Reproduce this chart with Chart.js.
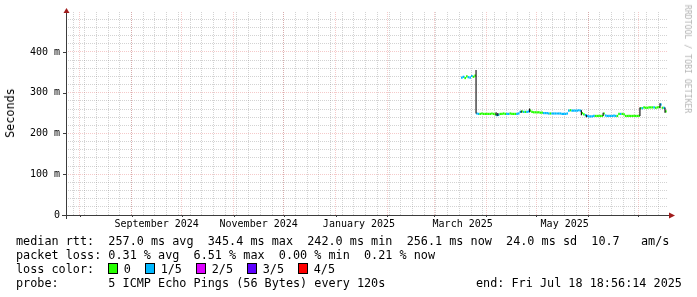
<!DOCTYPE html>
<html>
<head>
<meta charset="utf-8">
<script src="https://cdn.jsdelivr.net/npm/chart.js@4.4.1/dist/chart.umd.min.js"></script>
<style>
  html, body { margin: 0; padding: 0; background: #fff; }
  #wrap { position: relative; width: 697px; height: 297px; overflow: hidden; font-family: 'DejaVu Sans Mono', monospace; }
  #chart { position: absolute; left: 0; top: 0; }
  .row { position: absolute; left: 16px; font-size: 11.8px; line-height: 14px; white-space: pre; color: #000; }
  .box { display: inline-block; width: 8px; height: 9px; border: 1px solid #000; vertical-align: -1px; margin-right: 5.5px; }
  #ylabel { position: absolute; left: 10px; top: 113px; font-size: 11.8px; white-space: pre; transform: translate(-50%, -50%) rotate(-90deg); }
  #credit { position: absolute; left: 687.5px; top: 59px; font-size: 8.2px; color: #b4b4b4; white-space: pre; transform: translate(-50%, -50%) rotate(90deg); }
</style>
</head>
<body>
<div id="wrap">
  <canvas id="chart" width="697" height="297"></canvas>
  <div id="ylabel">Seconds</div>
  <div id="credit">RRDTOOL / TOBI OETIKER</div>
  <div class="row" style="top:234px">median rtt:  257.0 ms avg  345.4 ms max  242.0 ms min  256.1 ms now  24.0 ms sd  10.7   am/s</div>
  <div class="row" style="top:248px">packet loss: 0.31 % avg  6.51 % max  0.00 % min  0.21 % now</div>
  <div class="row" id="lossRow" style="top:262px"></div>
  <div class="row" style="top:276px">probe:       5 ICMP Echo Pings (56 Bytes) every 120s</div>
  <div class="row" style="top:276px; left:476px">end: Fri Jul 18 18:56:14 2025</div>
</div>
<script>
const DAY = 86400000;
const endTime = Date.UTC(2025, 6, 18, 18, 56, 14);
const startTime = endTime - 360 * DAY;

// one median sample per day, first one on 2025-03-18
const firstSample = Date.UTC(2025, 2, 18);
const medianRtt = [
  337, 339, 336, 340, 338, 337, 341, 339, 342,
  249, 248, 248, 249, 248, 248, 248, 248, 248, 249, 248, 247, 245, 246, 248, 248, 249, 248, 248, 248, 249, 248, 248, 248, 248, 249,
  253, 254, 253, 253, 253, 254, 256, 253, 252, 252, 252, 252, 251, 251, 250, 250, 250, 249, 249, 249, 249, 249, 249, 249, 249, 248, 248, 248, 249,
  256, 257, 256, 256, 256, 256, 257, 256,
  250, 247, 245, 243, 242, 242, 242, 243, 243, 243, 243, 243, 243, 249, 244, 243, 243, 243, 243, 244, 243, 243, 248, 248, 248, 247, 243, 243, 243, 243, 243, 243, 243, 243, 243,
  262, 262, 264, 263, 263, 264, 264, 264, 264, 263, 264, 265, 271, 263, 263, 254
];
// lost pings (of 5) per sample
const lossPings = [
  1, 1, 0, 0, 1, 1, 1, 0, 0,
  1, 1, 0, 0, 0, 0, 0, 0, 0, 0, 0, 0, 1, 1, 0, 0, 0, 0, 1, 1, 0, 0, 0, 0, 1, 1,
  1, 0, 1, 0, 1, 1, 0, 0, 0, 0, 0, 0, 0, 0, 1, 1, 1, 1, 0, 1, 1, 1, 1, 1, 1, 1, 1, 1, 1,
  1, 0, 1, 1, 1, 1, 1, 1,
  0, 0, 1, 1, 1, 1, 1, 1, 0, 0, 0, 0, 0, 0, 1, 1, 1, 1, 1, 1, 1, 0, 0, 1, 0, 0, 0, 0, 0, 0, 0, 0, 0, 0, 0,
  0, 1, 0, 0, 0, 0, 0, 0, 1, 0, 0, 0, 1, 0, 1, 0
];
// smoke (min/max spread) where it is visible
const smokeIdx  = [9, 21, 22, 36, 41, 72, 75, 85, 107, 119, 122];
const smokeLow  = [249, 244, 243, 251, 252, 245, 240, 243, 243, 262, 251];
const smokeHigh = [356, 252, 250, 256, 261, 257, 246, 251, 264, 274, 264];

const lossLabels = ['0', '1/5', '2/5', '3/5', '4/5'];
const lossColors = ['#26ff00', '#00b8ff', '#dd00ff', '#5e00ff', '#ff0000'];

const monthLabels = ['September 2024', 'November 2024', 'January 2025', 'March 2025', 'May 2025'];
const monthLabelDates = [Date.UTC(2024, 8, 16), Date.UTC(2024, 10, 16), Date.UTC(2025, 0, 15), Date.UTC(2025, 2, 18), Date.UTC(2025, 4, 18)];
const yTickValues = [0, 100, 200, 300, 400];
const yTickLabels = ['0', '100 m', '200 m', '300 m', '400 m'];

const MINOR = 'rgba(140,140,140,0.38)';
const MAJOR = 'rgba(225,100,100,0.34)';

// loss color legend row
const lossRow = document.getElementById('lossRow');
let html = 'loss color:  ';
lossLabels.forEach(function (lab, i) {
    html += '<span class="box" style="background:' + lossColors[i] + '"></span>' + lab + (i < lossLabels.length - 1 ? '  ' : '');
});
lossRow.innerHTML = html;

// x ticks: weekly (sundays), monthly, plus the labels
function buildXTicks() {
    const ticks = [];
    for (let t = Date.UTC(2024, 6, 28); t < endTime; t += 7 * DAY) ticks.push({ value: t, kind: 'minor' });
    for (let k = 0; ; k++) {
        const t = Date.UTC(2024, 7 + k, 1);
        if (t > endTime) break;
        ticks.push({ value: t, kind: 'major' });
    }
    monthLabelDates.forEach(function (d, i) { ticks.push({ value: d, kind: 'label', text: monthLabels[i] }); });
    ticks.sort(function (a, b) { return a.value - b.value; });
    return ticks;
}

// each sample is drawn as a flat piece over its own day, like rrdtool does
const medianPoints = [];
medianRtt.forEach(function (v, i) {
    const t = firstSample + i * DAY;
    medianPoints.push({ x: t - DAY, y: v }, { x: t, y: v }, { x: t, y: null });
});
const smokePoints = [];
smokeIdx.forEach(function (d, i) {
    const x = firstSample + (d - 1) * DAY;
    smokePoints.push({ x: x, y: smokeLow[i] }, { x: x, y: smokeHigh[i] }, { x: x, y: null });
});

const axesPlugin = {
    id: 'rrdAxes',
    afterDatasetsDraw(chart) {
        const ctx = chart.ctx;
        const a = chart.chartArea;
        const xs = chart.scales.x, ys = chart.scales.y;
        ctx.save();
        ctx.strokeStyle = '#3c3c3c';
        ctx.lineWidth = 1;
        ctx.beginPath();
        ctx.moveTo(a.left - 4, a.bottom + 0.5);
        ctx.lineTo(a.right + 2, a.bottom + 0.5);
        ctx.moveTo(a.left + 0.5, a.bottom + 4);
        ctx.lineTo(a.left + 0.5, a.top - 2);
        // small tick marks
        xs.ticks.forEach(function (t) {
            if (t.kind !== 'major') return;
            const px = Math.round(xs.getPixelForValue(t.value)) + 0.5;
            ctx.moveTo(px, a.bottom);
            ctx.lineTo(px, a.bottom + 2);
        });
        yTickValues.forEach(function (v) {
            const py = Math.round(ys.getPixelForValue(v)) + 0.5;
            ctx.moveTo(a.left - 3, py);
            ctx.lineTo(a.left, py);
        });
        ctx.stroke();
        // arrows
        ctx.fillStyle = '#a01c1c';
        ctx.beginPath();
        ctx.moveTo(a.right + 1, a.bottom - 2.5);
        ctx.lineTo(a.right + 7, a.bottom + 0.5);
        ctx.lineTo(a.right + 1, a.bottom + 3.5);
        ctx.closePath();
        ctx.fill();
        ctx.beginPath();
        ctx.moveTo(a.left - 2.5, a.top + 1);
        ctx.lineTo(a.left + 0.5, a.top - 4);
        ctx.lineTo(a.left + 3.5, a.top + 1);
        ctx.closePath();
        ctx.fill();
        ctx.restore();
    }
};

new Chart(document.getElementById('chart').getContext('2d'), {
    type: 'line',
    data: {
        datasets: [{
            data: smokePoints,
            borderColor: '#1c1c1c',
            borderWidth: 1.2,
            pointRadius: 0,
            spanGaps: false,
            order: 0
        }, {
            data: medianPoints,
            borderWidth: 2.2,
            pointRadius: 0,
            spanGaps: false,
            borderColor: lossColors[0],
            segment: {
                borderColor: function (ctx) { return lossColors[lossPings[Math.floor(ctx.p1DataIndex / 3)]]; }
            },
            order: 1
        }]
    },
    options: {
        responsive: false,
        animation: false,
        devicePixelRatio: 1,
        layout: { padding: { top: 12, right: 29, left: 0, bottom: 0 } },
        plugins: { legend: { display: false }, tooltip: { enabled: false } },
        scales: {
            x: {
                type: 'linear',
                min: startTime,
                max: endTime,
                afterBuildTicks: function (scale) { scale.ticks = buildXTicks(); },
                afterFit: function (scale) { scale.height = 82; },
                ticks: {
                    autoSkip: false,
                    maxRotation: 0,
                    padding: 3,
                    color: '#000',
                    font: { family: 'DejaVu Sans Mono', size: 10 },
                    callback: function (value, index, ticks) { return ticks[index].text || ''; }
                },
                grid: {
                    drawTicks: false,
                    lineWidth: 1,
                    color: function (ctx) {
                        const k = ctx.tick && ctx.tick.kind;
                        return k === 'major' ? MAJOR : k === 'minor' ? MINOR : 'rgba(0,0,0,0)';
                    }
                },
                border: { display: false, dash: [1, 1] }
            },
            y: {
                type: 'linear',
                min: 0,
                max: 498,
                afterBuildTicks: function (scale) {
                    const t = [];
                    for (let v = 0; v <= 480; v += 20) t.push({ value: v });
                    scale.ticks = t;
                },
                afterFit: function (scale) { scale.width = 66; },
                ticks: {
                    autoSkip: false,
                    padding: 6,
                    color: '#000',
                    font: { family: 'DejaVu Sans Mono', size: 10 },
                    callback: function (value) {
                        const i = yTickValues.indexOf(value);
                        return i >= 0 ? yTickLabels[i] : '';
                    }
                },
                grid: {
                    drawTicks: false,
                    lineWidth: 1,
                    color: function (ctx) {
                        const v = ctx.tick ? ctx.tick.value : 0;
                        if (v === 0) return 'rgba(0,0,0,0)';
                        return v % 100 === 0 ? MAJOR : MINOR;
                    }
                },
                border: { display: false, dash: [1, 1] }
            }
        }
    },
    plugins: [axesPlugin]
});
</script>
</body>
</html>
